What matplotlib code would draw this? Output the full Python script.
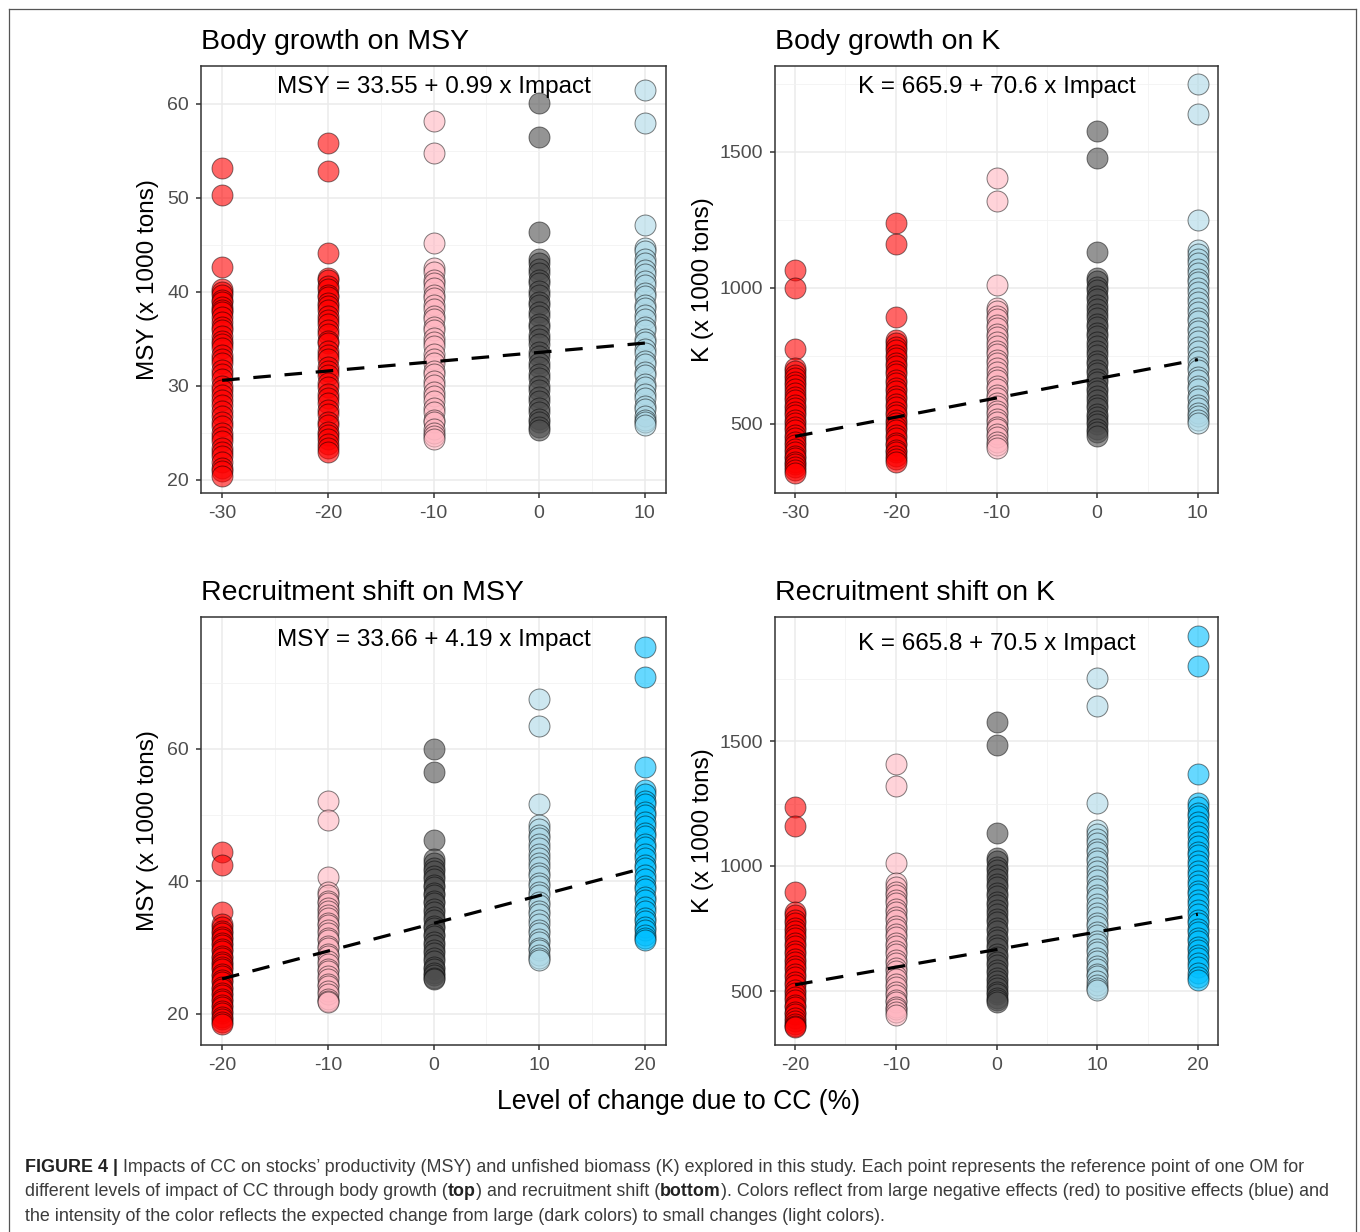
import matplotlib.pyplot as plt
from matplotlib.lines import Line2D
from matplotlib.colors import to_rgba

plt.rcParams["font.family"] = ["Liberation Sans", "DejaVu Sans"]

W, H = 1360, 1232

# ---- data -------------------------------------------------------------
# body growth panels: impact levels
bg_levels = [-30, -20, -10, 0, 10]
bg_colors = ["#FF0000", "#FF0000", "#FFB6C1", "#4D4D4D", "#ADD8E6"]

msy_bg = {
    -30: [53.2, 50.3, 42.6, 40.3, 40.0, 39.7, 39.1, 38.9, 38.4, 38.1, 37.8, 37.3,
          36.8, 36.2, 35.9, 35.3, 34.8, 34.4, 34.0, 33.3, 32.8, 32.4, 31.7, 31.2,
          30.7, 30.0, 29.6, 29.0, 28.5, 28.0, 27.3, 26.8, 26.1, 25.7, 25.0, 24.6,
          24.1, 23.4, 23.0, 22.5, 21.9, 21.3, 20.9, 20.4],
    -20: [55.8, 52.8, 44.1, 41.5, 41.2, 40.6, 40.3, 39.7, 39.4, 38.8, 38.5, 38.1,
          37.4, 37.0, 36.6, 35.9, 35.5, 34.8, 34.5, 33.7, 33.3, 32.8, 32.0, 31.6,
          31.1, 30.3, 29.9, 29.1, 28.7, 28.2, 27.4, 27.0, 26.2, 25.8, 25.1, 24.8,
          24.3, 23.8, 23.4, 23.0],
    -10: [58.1, 54.8, 45.2, 42.5, 42.1, 41.3, 40.9, 40.4, 39.7, 39.3, 38.6, 38.2,
          37.4, 37.1, 36.3, 35.9, 35.1, 34.7, 34.2, 33.4, 32.9, 32.4, 31.6, 31.3,
          30.5, 30.1, 29.3, 28.9, 28.4, 27.6, 27.2, 26.4, 26.1, 25.4, 25.0, 24.7,
          24.3],
    0: [60.1, 56.5, 46.4, 43.5, 43.1, 42.4, 42.0, 41.2, 40.9, 40.1, 39.7, 38.9,
        38.6, 37.8, 37.4, 36.6, 36.2, 35.4, 35.0, 34.4, 33.6, 33.2, 32.4, 32.0,
        31.2, 30.8, 30.0, 29.6, 28.8, 28.4, 27.6, 27.2, 26.5, 26.2, 25.6, 25.3],
    10: [61.4, 57.9, 47.1, 44.7, 44.3, 43.5, 43.1, 42.3, 41.9, 41.1, 40.7, 39.9,
         39.5, 38.6, 38.3, 37.5, 37.1, 36.3, 35.9, 35.0, 34.7, 33.9, 33.5, 32.6,
         32.3, 31.5, 31.1, 30.2, 29.9, 29.1, 28.7, 27.9, 27.5, 26.8, 26.4, 26.1,
         25.8],
}
k_bg = {
    -30: [1066, 1000, 776, 706, 696, 680, 670, 653, 643, 627, 615, 599, 588, 571,
          560, 543, 532, 515, 504, 487, 477, 461, 449, 433, 423, 407, 397, 383,
          374, 360, 352, 340, 331, 320],
    -20: [1239, 1162, 893, 809, 798, 781, 770, 752, 741, 723, 712, 693, 682, 663,
          652, 633, 622, 604, 593, 574, 563, 545, 534, 515, 505, 487, 476, 458,
          448, 431, 421, 405, 396, 382, 371, 360],
    -10: [1404, 1320, 1011, 926, 914, 896, 884, 864, 852, 832, 820, 800, 788, 768,
          756, 736, 724, 704, 692, 672, 660, 640, 628, 608, 597, 577, 566, 546,
          536, 517, 507, 489, 480, 463, 451, 434, 423, 412],
    0: [1577, 1478, 1132, 1037, 1024, 1004, 992, 971, 958, 937, 924, 903, 890,
        869, 856, 835, 822, 801, 788, 767, 754, 733, 721, 699, 687, 666, 654, 633,
        621, 601, 589, 569, 557, 538, 527, 509, 498, 482, 470, 456],
    10: [1750, 1640, 1250, 1140, 1126, 1105, 1092, 1070, 1056, 1034, 1020, 998,
         985, 962, 949, 926, 913, 890, 877, 854, 841, 818, 805, 782, 769, 746,
         733, 710, 698, 674, 662, 639, 627, 604, 592, 570, 559, 540, 528, 514, 504],
}

# recruitment shift panels
rs_levels = [-20, -10, 0, 10, 20]
rs_colors = ["#FF0000", "#FFB6C1", "#4D4D4D", "#ADD8E6", "#00BFFF"]

msy_rs = {
    -20: [44.5, 42.4, 35.3, 33.5, 33.1, 32.5, 32.2, 31.6, 31.3, 30.7, 30.4, 29.8,
          29.5, 28.8, 28.5, 27.9, 27.6, 27.0, 26.7, 26.0, 25.7, 25.1, 24.8, 24.1,
          23.8, 23.2, 22.9, 22.2, 21.9, 21.3, 21.0, 20.4, 20.1, 19.5, 19.2, 18.8,
          18.4],
    -10: [52.2, 49.3, 40.7, 38.4, 37.9, 37.1, 36.8, 36.0, 35.6, 34.9, 34.5, 33.7,
          33.4, 32.6, 32.2, 31.4, 31.1, 30.3, 29.9, 29.1, 28.8, 28.0, 27.6, 26.8,
          26.5, 25.7, 25.3, 24.5, 24.2, 23.4, 23.0, 22.3, 22.0, 21.8],
    0: [60.0, 56.5, 46.3, 43.3, 42.8, 42.0, 41.6, 40.8, 40.4, 39.5, 39.1, 38.3,
        37.9, 37.1, 36.7, 35.8, 35.4, 34.6, 34.2, 33.3, 32.9, 32.1, 31.7, 30.8,
        30.4, 29.6, 29.2, 28.4, 28.0, 27.1, 26.8, 26.1, 25.8, 25.4, 25.2],
    10: [67.5, 63.5, 51.7, 48.5, 47.9, 47.0, 46.5, 45.6, 45.1, 44.1, 43.6, 42.7,
         42.2, 41.2, 40.8, 39.8, 39.3, 38.4, 37.9, 36.9, 36.5, 35.5, 35.0, 34.1,
         33.6, 32.7, 32.2, 31.3, 30.9, 30.0, 29.6, 28.9, 28.5, 28.2],
    20: [75.4, 70.9, 57.3, 53.8, 53.2, 52.1, 51.6, 50.5, 50.0, 48.9, 48.4, 47.3,
         46.8, 45.7, 45.2, 44.1, 43.6, 42.5, 42.0, 40.9, 40.4, 39.3, 38.8, 37.7,
         37.2, 36.1, 35.6, 34.5, 34.0, 33.1, 32.6, 31.9, 31.5, 31.2],
}
k_rs = {
    -20: [1236, 1160, 896, 816, 804, 785, 773, 754, 742, 723, 711, 692, 680, 661,
          649, 630, 618, 599, 587, 568, 556, 537, 525, 506, 494, 476, 464, 446,
          435, 418, 408, 392, 382, 370, 362, 356],
    -10: [1408, 1320, 1012, 932, 918, 898, 885, 864, 851, 830, 817, 796, 783, 762,
          749, 728, 715, 694, 681, 660, 647, 626, 613, 592, 580, 559, 547, 527,
          515, 495, 484, 466, 455, 438, 428, 416, 404],
    0: [1576, 1484, 1132, 1032, 1019, 998, 985, 963, 950, 928, 915, 893, 880, 858,
        845, 823, 810, 788, 775, 753, 740, 718, 705, 683, 671, 649, 637, 616, 604,
        584, 572, 553, 542, 524, 513, 497, 487, 472, 464, 456],
    10: [1752, 1640, 1252, 1144, 1129, 1107, 1093, 1070, 1056, 1033, 1019, 996,
         982, 959, 945, 922, 908, 885, 871, 848, 834, 811, 797, 774, 761, 738, 725,
         702, 689, 667, 655, 633, 621, 600, 589, 569, 559, 541, 526, 514, 504],
    20: [1920, 1800, 1368, 1252, 1237, 1214, 1199, 1175, 1160, 1136, 1121, 1097,
         1082, 1058, 1043, 1019, 1004, 980, 965, 941, 926, 902, 887, 863, 848, 824,
         810, 786, 772, 748, 735, 712, 699, 677, 665, 644, 633, 613, 595, 572, 558,
         544],
}

titles = ["Body growth on MSY", "Body growth on K",
          "Recruitment shift on MSY", "Recruitment shift on K"]
eq_labels = ["MSY = 33.55 + 0.99 x Impact", "K = 665.9 + 70.6 x Impact",
             "MSY = 33.66 + 4.19 x Impact", "K = 665.8 + 70.5 x Impact"]
intercepts = [33.55, 665.9, 33.66, 665.8]
slopes = [0.99, 70.6, 4.19, 70.5]
ylabels = ["MSY (x 1000 tons)", "K (x 1000 tons)",
           "MSY (x 1000 tons)", "K (x 1000 tons)"]

# ---- layout (pixels) --------------------------------------------------
panels = [
    # left, top, right, bottom, levels, colors, data, ylim, yticks, yminor, ylab_x, eq_y
    (201, 66, 666, 493, bg_levels, bg_colors, msy_bg, (18.6, 64.0),
     [20, 30, 40, 50, 60], [25, 35, 45, 55], 148, 0.937),
    (775, 66, 1218, 493, bg_levels, bg_colors, k_bg, (246, 1816),
     [500, 1000, 1500], [250, 750, 1250, 1750], 703, 0.937),
    (201, 617, 666, 1045, rs_levels, rs_colors, msy_rs, (15.3, 79.9),
     [20, 40, 60], [30, 50, 70], 148, 0.933),
    (775, 617, 1218, 1045, rs_levels, rs_colors, k_rs, (284, 1996),
     [500, 1000, 1500], [750, 1250, 1750], 703, 0.924),
]

fig = plt.figure(figsize=(W / 100, H / 100), dpi=100)

for i, (l, t, r, b, levels, cols, data, ylim, yt, ymin, ylx, eqy) in enumerate(panels):
    ax = fig.add_axes([l / W, 1 - b / H, (r - l) / W, (b - t) / H])
    ax.set_facecolor("white")
    step = levels[1] - levels[0]
    ax.set_xlim(levels[0] - 0.2 * step, levels[-1] + 0.2 * step)
    ax.set_ylim(*ylim)
    ax.set_xticks(levels)
    ax.set_xticklabels([str(v) for v in levels])
    ax.set_xticks([v + step / 2 for v in levels[:-1]], minor=True)
    ax.set_yticks(yt)
    ax.set_yticks(ymin, minor=True)
    ax.grid(which="major", color="#EBEBEB", lw=1.1, zorder=0)
    ax.grid(which="minor", color="#F2F2F2", lw=0.6, zorder=0)
    ax.set_axisbelow(True)
    ax.tick_params(which="major", length=3.6, width=1.1, color="#333333",
                   labelsize=14, labelcolor="#4D4D4D", pad=5)
    ax.tick_params(which="minor", length=0)
    for s in ax.spines.values():
        s.set_color("#333333")
        s.set_linewidth(1.1)

    for lev, c in zip(levels, cols):
        ys = data[lev]
        ax.scatter([lev] * len(ys), ys, s=228, facecolor=to_rgba(c, 0.6),
                   edgecolor=(0, 0, 0, 0.5), linewidths=0.7, zorder=3)

    xs = [levels[0], levels[-1]]
    ln, = ax.plot(xs, [intercepts[i] + slopes[i] * x / 10 for x in xs],
                  color="black", lw=2.3, zorder=5)
    ln.set_dashes([5.5, 4.3])

    ax.text(0.5, eqy, eq_labels[i], transform=ax.transAxes, ha="center",
            va="baseline", fontsize=17.5, color="black", zorder=6)
    ax.text(0.0, 1 + 17 / (b - t), titles[i], transform=ax.transAxes,
            ha="left", va="baseline", fontsize=20.5, color="black")
    ax.set_ylabel(ylabels[i], fontsize=17.5, color="black", va="center")
    ax.yaxis.set_label_coords(-(l - ylx) / (r - l), 0.5)

fig.text(679 / W, 1 - 1102 / H, "Level of change due to CC (%)", ha="center",
         va="center", fontsize=19.1, color="black")

# outer frame
frame_kw = dict(color="#555555", lw=0.9, transform=fig.transFigure)
fig.add_artist(Line2D([8.5 / W, 8.5 / W], [1 - 8.5 / H, 0], **frame_kw))
fig.add_artist(Line2D([8.5 / W, 1355.5 / W], [1 - 8.5 / H, 1 - 8.5 / H], **frame_kw))
fig.add_artist(Line2D([1355.5 / W, 1355.5 / W], [1 - 8.5 / H, 0], **frame_kw))

# caption with bold pieces
caption = [
    [("FIGURE 4 |", "bold"), (" Impacts of CC on stocks\u2019 productivity (MSY) and unfished "
                               "biomass (K) explored in this study. Each point represents the "
                               "reference point of one OM for", "normal")],
    [("different levels of impact of CC through body growth (", "normal"), ("top", "bold"),
     (") and recruitment shift (", "normal"), ("bottom", "bold"),
     ("). Colors reflect from large negative effects (red) to positive effects (blue) and", "normal")],
    [("the intensity of the color reflects the expected change from large (dark colors) "
      "to small changes (light colors).", "normal")],
]
cap_size = 12.9
cap_font = ["Liberation Sans", "DejaVu Sans"]
renderer = fig.canvas.get_renderer()


def seg_width(txt, weight):
    a = fig.text(0, 0, "x" + txt + "x", fontsize=cap_size, fontweight=weight, family=cap_font)
    bref = fig.text(0, 0, "xx", fontsize=cap_size, fontweight=weight, family=cap_font)
    w = a.get_window_extent(renderer).width - bref.get_window_extent(renderer).width
    a.remove()
    bref.remove()
    return w


for row, segs in enumerate(caption):
    x = 25
    ybase = 1171.5 + row * 24.6
    for txt, weight in segs:
        fig.text(x / W, 1 - ybase / H, txt, fontsize=cap_size, fontweight=weight,
                 family=cap_font, ha="left", va="baseline",
                 color="#222222" if weight == "bold" else "#3C3C3C")
        x += seg_width(txt, weight)

fig.savefig("out.png", dpi=100, facecolor="white")
